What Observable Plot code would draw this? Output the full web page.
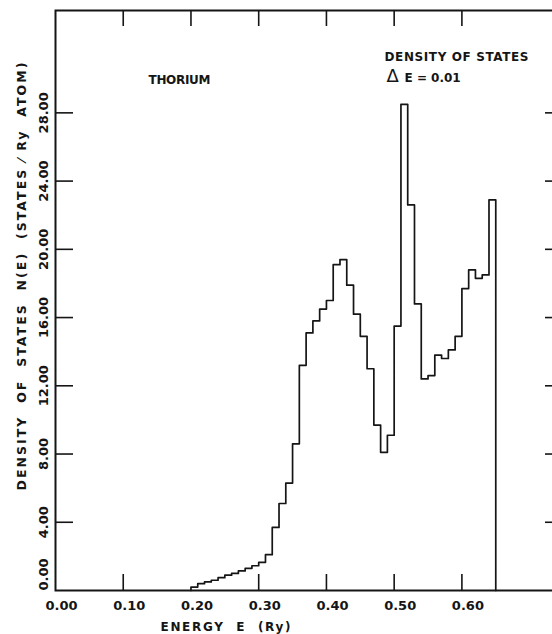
<!DOCTYPE html>
<html>
<head>
<meta charset="utf-8">
<script src="https://cdn.jsdelivr.net/npm/d3@7"></script>
<script src="https://cdn.jsdelivr.net/npm/@observablehq/plot@0.6"></script>
<style>
html, body { margin: 0; padding: 0; background: #fff; overflow: hidden; }
#chart { width: 566px; }
#chart svg { display: block; max-width: none !important; width: 566px !important; height: 634px !important; }
</style>
</head>
<body>
<div id="chart"></div>
<script>
// ---- data ----
const binStart = [0.20,0.21,0.22,0.23,0.24,0.25,0.26,0.27,0.28,0.29,
                  0.30,0.31,0.32,0.33,0.34,0.35,0.36,0.37,0.38,0.39,
                  0.40,0.41,0.42,0.43,0.44,0.45,0.46,0.47,0.48,0.49,
                  0.50,0.51,0.52,0.53,0.54,0.55,0.56,0.57,0.58,0.59,
                  0.60,0.61,0.62,0.63,0.64];
const dos = [0.2,0.4,0.5,0.6,0.75,0.9,1.0,1.15,1.3,1.45,
             1.65,2.1,3.7,5.1,6.3,8.6,13.2,15.1,15.8,16.5,
             17.0,19.1,19.4,17.9,16.2,14.9,13.0,9.7,8.1,9.1,
             15.5,28.5,22.6,16.8,12.4,12.6,13.8,13.6,14.1,14.9,
             17.7,18.8,18.3,18.5,22.9];
const binWidth = 0.01;

const xTicks = [0.00,0.10,0.20,0.30,0.40,0.50,0.60];
const xTickLabels = ["0.00","0.10","0.20","0.30","0.40","0.50","0.60"];
const xBottomTicks = [0.10,0.30,0.40,0.50,0.60];
const xTopTicks = [0.10,0.20,0.30,0.40,0.50,0.60];
const yTicks = [0,4,8,12,16,20,24,28];
const yTickLabels = ["0.00","4.00","8.00","12.00","16.00","20.00","24.00","28.00"];

const xTitle = ["ENERGY  E  (Ry)"];
const yTitle = ["DENSITY  OF  STATES  N(E)  (STATES ⁄ Ry  ATOM)"];
const elementLabel = ["THORIUM"];
const dosLabel = ["DENSITY OF STATES"];
const deltaSymbol = ["Δ"];
const deltaText = ["E = 0.01"];

// ---- build step outline from the bins ----
const last = binStart.length - 1;
const outline = [{e: binStart[0], n: 0}]
  .concat(binStart.map((e, i) => ({e, n: dos[i]})))
  .concat([{e: binStart[last] + binWidth, n: dos[last]}, {e: binStart[last] + binWidth, n: 0}]);

const W = 566, H = 634, mL = 55, mR = 3, mT = 10, mB = 44;
const plotW = W - mL - mR, plotH = H - mT - mB;
const font = {fontFamily: "DejaVu Sans, sans-serif", fontWeight: "bold", fill: "#151515"};

const chart = Plot.plot({
  width: W, height: H,
  marginLeft: mL, marginRight: mR, marginTop: mT, marginBottom: mB,
  x: {domain: [0, 0.75], axis: null},
  y: {domain: [0, 34], axis: null},
  style: {background: "#fff"},
  marks: [
    Plot.frame({stroke: "#151515", strokeWidth: 2}),
    // inward ticks
    Plot.tickY(yTicks.filter(v => v > 0), {y: d => d, stroke: "#151515", strokeWidth: 1.6, insetRight: plotW - 18}),
    Plot.tickY(yTicks.filter(v => v > 0), {y: d => d, stroke: "#151515", strokeWidth: 1.6, insetLeft: plotW - 18}),
    Plot.tickX(xTopTicks, {x: d => d, stroke: "#151515", strokeWidth: 1.6, insetBottom: plotH - 16}),
    Plot.tickX(xBottomTicks, {x: d => d, stroke: "#151515", strokeWidth: 1.6, insetTop: plotH - 16}),
    // density of states histogram outline
    Plot.lineY(outline, {x: "e", y: "n", curve: "step-after", stroke: "#151515", strokeWidth: 1.7}),
    // x tick labels
    Plot.text(xTicks, {x: d => d, text: (d, i) => xTickLabels[i], frameAnchor: "bottom", dy: 15, dx: 6,
      lineAnchor: "middle", fontSize: 13, ...font}),
    // y tick labels (rotated)
    Plot.text(yTicks.filter(v => v > 0), {y: d => d, text: d => yTickLabels[yTicks.indexOf(d)], frameAnchor: "left",
      dx: -12, rotate: -90, textAnchor: "middle", lineAnchor: "middle", fontSize: 13, ...font}),
    Plot.text(yTicks.filter(v => v === 0), {y: d => d, text: d => yTickLabels[yTicks.indexOf(d)], frameAnchor: "left",
      dx: -12, rotate: -90, textAnchor: "start", lineAnchor: "middle", fontSize: 13, ...font}),
    // axis titles
    Plot.text(xTitle, {text: d => d, frameAnchor: "bottom-left", dx: 105, dy: 37, textAnchor: "start",
      lineAnchor: "middle", fontSize: 12, ...font}),
    Plot.text(yTitle, {text: d => d, frameAnchor: "bottom-left", dx: -34, dy: -100, rotate: -90,
      textAnchor: "start", lineAnchor: "middle", fontSize: 12.5, ...font}),
    // annotations
    Plot.text(elementLabel, {text: d => d, frameAnchor: "top-left", dx: 93, dy: 70, textAnchor: "start",
      lineAnchor: "middle", fontSize: 12, ...font}),
    Plot.text(dosLabel, {text: d => d, frameAnchor: "top-left", dx: 329, dy: 47, textAnchor: "start",
      lineAnchor: "middle", fontSize: 12, ...font}),
    Plot.text(deltaSymbol, {text: d => d, frameAnchor: "top-left", dx: 331, dy: 66, textAnchor: "start",
      lineAnchor: "middle", fontSize: 18, fontFamily: "DejaVu Sans, sans-serif", fontWeight: "normal", fill: "#151515"}),
    Plot.text(deltaText, {text: d => d, frameAnchor: "top-left", dx: 349, dy: 68, textAnchor: "start",
      lineAnchor: "middle", fontSize: 12, ...font})
  ]
});

document.getElementById("chart").appendChild(chart);

// stretch letter spacing of the lettered titles to the reference widths
const stretch = {};
stretch[yTitle[0]] = 428;
stretch[xTitle[0]] = 130;
stretch[elementLabel[0]] = 62;
stretch[dosLabel[0]] = 144;
chart.querySelectorAll("text").forEach(t => {
  const s = stretch[t.textContent];
  if (s) { t.setAttribute("textLength", s); t.setAttribute("lengthAdjust", "spacing"); }
});
</script>
</body>
</html>
